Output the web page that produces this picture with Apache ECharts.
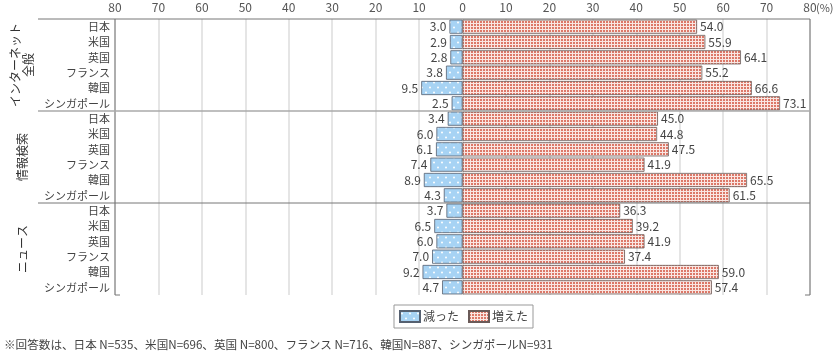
<!DOCTYPE html>
<html><head><meta charset="utf-8">
<script src="https://cdn.jsdelivr.net/npm/echarts@6/dist/echarts.min.js"></script>
<style>html,body{margin:0;padding:0;background:#fff}#c{width:840px;height:355px}</style>
</head><body><div id="c"></div>
<script>
const countries = ['日本','米国','英国','フランス','韓国','シンガポール'];
const groups = ['インターネット\n全般','情報検索','ニュース'];
const decInternet = [3.0,2.9,2.8,3.8,9.5,2.5];
const incInternet = [54.0,55.9,64.1,55.2,66.6,73.1];
const decSearch = [3.4,6.0,6.1,7.4,8.9,4.3];
const incSearch = [45.0,44.8,47.5,41.9,65.5,61.5];
const decNews = [3.7,6.5,6.0,7.0,9.2,4.7];
const incNews = [36.3,39.2,41.9,37.4,59.0,57.4];
const seriesNames = ['減った','増えた'];
const footnote = '※回答数は、日本 N=535、米国N=696、英国 N=800、フランス N=716、韓国N=887、シンガポールN=931';

const FONT = '"Noto Sans CJK JP", "Noto Sans", sans-serif';
const G = {left:115, right:810, top:19, bottom:295};

const rowKeys = [];
[0,1,2].forEach(g => countries.forEach(c => rowKeys.push(g + '|' + c)));
const decAll = [].concat(decInternet, decSearch, decNews).map(v => -v);
const incAll = [].concat(incInternet, incSearch, incNews);

function pattern(w, h, draw){
  const c = document.createElement('canvas'); c.width = w; c.height = h;
  draw(c.getContext('2d'));
  return {image: c, repeat: 'repeat'};
}
const bluePat = pattern(8, 10, ctx => {
  ctx.fillStyle = '#a7d3f4'; ctx.fillRect(0,0,8,10);
  ctx.fillStyle = '#ffffff';
  ctx.beginPath(); ctx.arc(2,2.5,1,0,Math.PI*2); ctx.fill();
  ctx.beginPath(); ctx.arc(6,7.5,1,0,Math.PI*2); ctx.fill();
});
const redPat = pattern(3, 3, ctx => {
  ctx.fillStyle = '#fae6e2'; ctx.fillRect(0,0,3,3);
  ctx.fillStyle = '#dc7868'; ctx.fillRect(0,0,2,2);
});

const chart = echarts.init(document.getElementById('c'), null, {renderer:'canvas'});
chart.setOption({
  animation: false,
  textStyle: {fontFamily: FONT},
  grid: {left: G.left, right: 840 - G.right, top: G.top, bottom: 355 - G.bottom, containLabel: false},
  legend: {
    left: 394, top: 305, padding: [5, 5, 5, 5], itemGap: 9,
    itemWidth: 20, itemHeight: 11, icon: 'rect',
    borderColor: '#999', borderWidth: 1,
    textStyle: {fontSize: 12, color: '#444', fontFamily: FONT, padding: [0, 0, 0, -2]},
    data: seriesNames
  },
  xAxis: {
    type: 'value', position: 'top', min: -80, max: 80, interval: 10,
    axisLine: {show: false}, axisTick: {show: false},
    axisLabel: {fontSize: 12, color: '#555', margin: 6, formatter: v => String(Math.abs(v)), fontFamily: FONT},
    splitLine: {show: true, lineStyle: {color: '#dcdcdc', width: 1.5}}
  },
  yAxis: {
    type: 'category', inverse: true, data: rowKeys,
    axisLine: {show: false}, axisTick: {show: false},
    axisLabel: {fontSize: 11, color: '#444', margin: 5, formatter: v => v.split('|')[1], fontFamily: FONT}
  },
  series: [
    {
      name: seriesNames[0], type: 'bar', stack: 'a', data: decAll, barCategoryGap: '8%',
      itemStyle: {color: bluePat, borderColor: '#556070', borderWidth: 0.8},
      label: {show: true, position: 'left', distance: 3, fontSize: 12, color: '#444', fontFamily: FONT,
        formatter: p => Math.abs(p.value).toFixed(1)}
    },
    {
      name: seriesNames[1], type: 'bar', stack: 'a', data: incAll, barCategoryGap: '8%',
      itemStyle: {color: redPat, borderColor: '#6a5a58', borderWidth: 0.8},
      label: {show: true, position: 'right', distance: 3, fontSize: 12, color: '#444', fontFamily: FONT,
        formatter: p => Math.abs(p.value).toFixed(1)}
    }
  ]
});

const lineStyle = {stroke: '#777', lineWidth: 1};
const gfx = [];
gfx.push({type:'line', shape:{x1:38, y1:G.top, x2:G.right, y2:G.top}, style: lineStyle, z: 10});
gfx.push({type:'line', shape:{x1:G.left, y1:G.top, x2:G.left, y2:G.bottom}, style: lineStyle, z: 10});
gfx.push({type:'line', shape:{x1:G.right, y1:G.top, x2:G.right, y2:G.bottom}, style: lineStyle, z: 10});
gfx.push({type:'line', shape:{x1:G.left, y1:G.bottom, x2:G.left+5, y2:G.bottom}, style: lineStyle, z: 10});
gfx.push({type:'line', shape:{x1:G.right-5, y1:G.bottom, x2:G.right, y2:G.bottom}, style: lineStyle, z: 10});
for (let g = 1; g < groups.length; g++) {
  const a = chart.convertToPixel({yAxisIndex:0}, rowKeys[g*6-1]);
  const b = chart.convertToPixel({yAxisIndex:0}, rowKeys[g*6]);
  const y = (a + b) / 2;
  gfx.push({type:'line', shape:{x1:38, y1:y, x2:G.right, y2:y}, style: {stroke: g === 1 ? '#aaa' : '#777', lineWidth: g === 1 ? 1.5 : 1}, z: 10});
}
groups.forEach((name, g) => {
  const a = chart.convertToPixel({yAxisIndex:0}, rowKeys[g*6]);
  const b = chart.convertToPixel({yAxisIndex:0}, rowKeys[g*6+5]);
  gfx.push({type:'text', x: 22, y: (a + b) / 2, rotation: Math.PI/2,
    style: {text: name, align: 'center', verticalAlign: 'middle', fontSize: 12, fill: '#333', fontFamily: FONT, lineHeight: 13}, z: 10});
});
gfx.push({type:'text', x: 816, y: 8, style: {text: '(%)', fontSize: 11, fill: '#555', verticalAlign: 'middle', fontFamily: FONT}});
gfx.push({type:'text', x: 4, y: 345, style: {text: footnote, fontSize: 11.6, fill: '#444', verticalAlign: 'middle', fontFamily: FONT}});
chart.setOption({graphic: gfx});
</script>
</body></html>
